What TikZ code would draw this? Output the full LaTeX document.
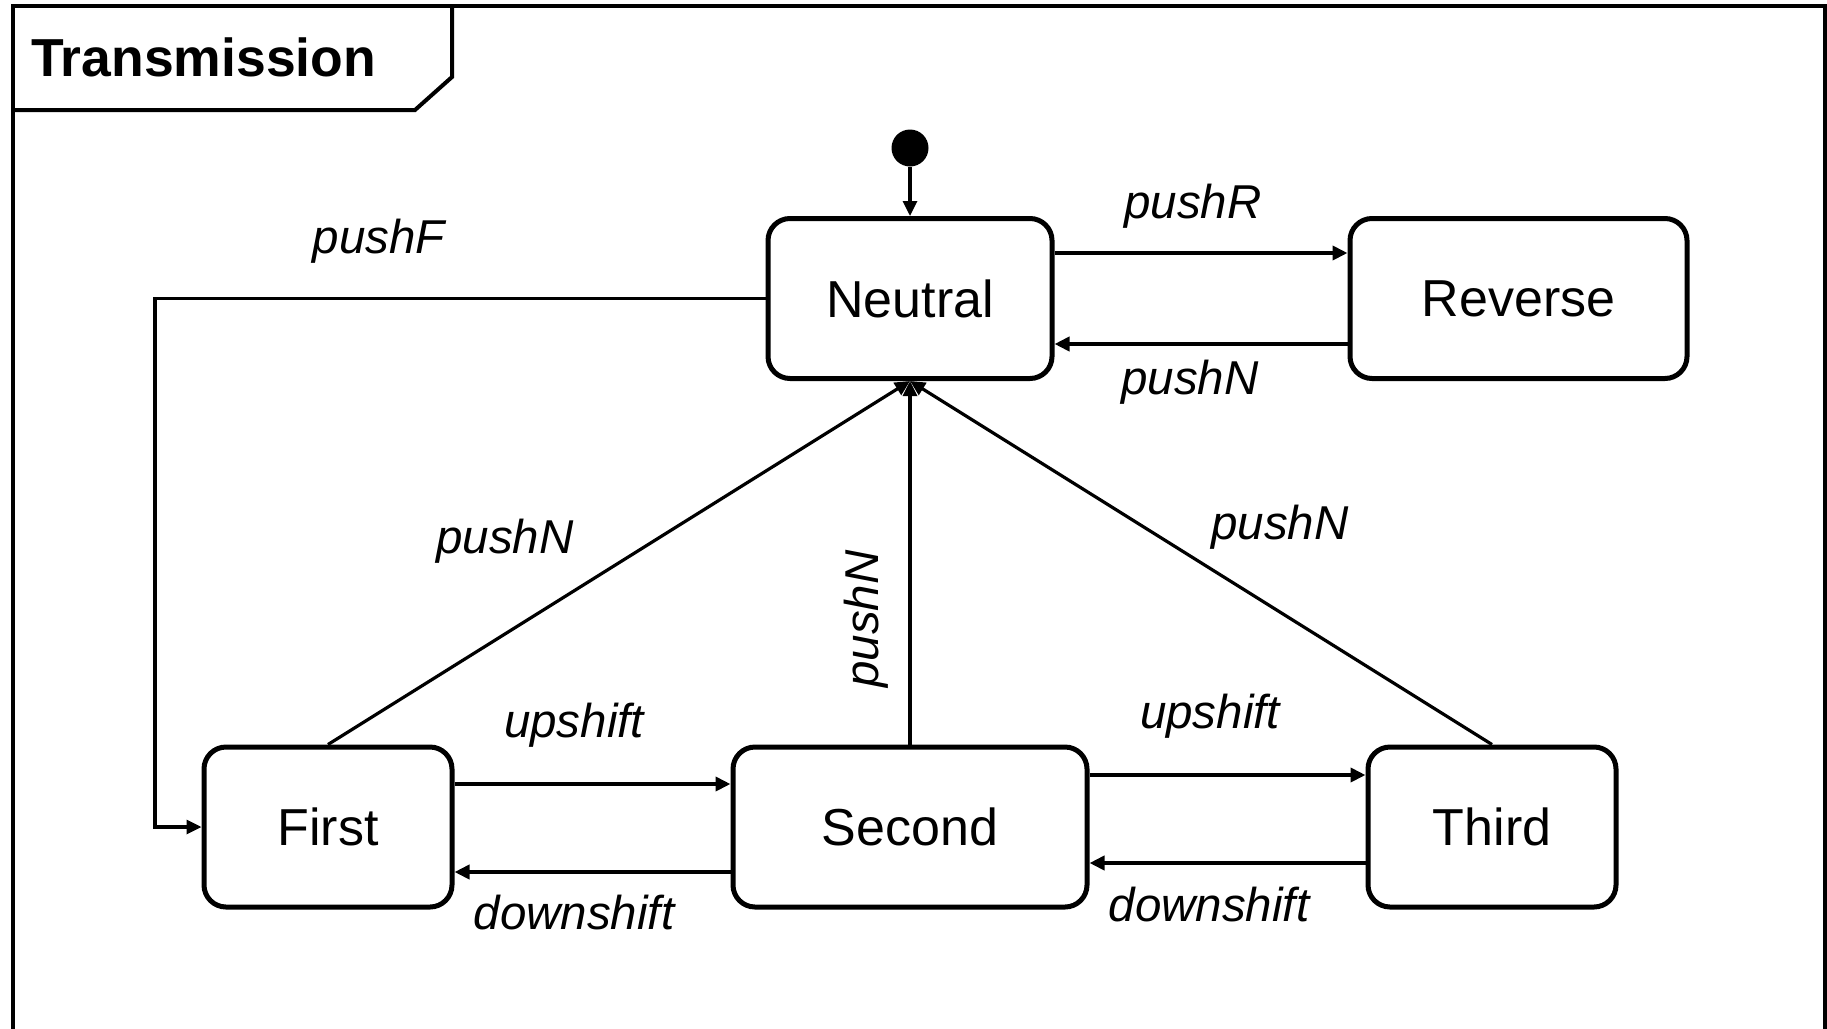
\documentclass[tikz,border=0pt]{standalone}
\usepackage{fontspec}
\setmainfont{Liberation Sans}
\usetikzlibrary{arrows.meta}

\tikzset{
  state/.style={draw, line width=5pt, rounded corners=22pt, inner sep=0pt,
    minimum height=160pt, font=\fontsize{52}{60}\selectfont},
  trig/.style={font=\fontsize{47.5}{54}\selectfont\itshape, inner sep=0pt},
  trans/.style={line width=4.4pt, -{Triangle[length=15pt,width=14pt]}},
  thin trans/.style={line width=3.2pt, -{Triangle[length=15pt,width=14pt]}},
  frameline/.style={line width=4.5pt},
}

\begin{document}
\begin{tikzpicture}[x=1pt, y=-1pt]
  \useasboundingbox (0,0) rectangle (1827,1028);

  % diagram frame and name tab
  \draw[frameline] (13,1040) -- (13,6) -- (1825,6) -- (1825,1040);
  \draw[line width=4pt] (13,110) -- (415,110) -- (452,77) -- (452,6);
  \node[anchor=base west, inner sep=0pt, font=\fontsize{53.5}{60}\selectfont\bfseries]
    (title) at (31,76) {Transmission};

  % states
  \node[state, minimum width=284pt] (neutral) at (910,298.5) {Neutral};
  \node[state, minimum width=337pt] (reverse) at (1518.5,298.5) {Reverse};
  \node[state, minimum width=248pt] (first)   at (328,827) {First};
  \node[state, minimum width=354pt] (second)  at (910,827) {Second};
  \node[state, minimum width=248pt] (third)   at (1492,827) {Third};

  % initial pseudo-state
  \node[circle, fill, inner sep=0pt, minimum size=37pt] (init) at (910,148) {};
  \draw[thin trans] (init) -- (neutral.north);

  % neutral <-> reverse
  \draw[trans] ([yshift=45.5pt]neutral.east) -- ([yshift=45.5pt]reverse.west);
  \draw[trans] ([yshift=-45.5pt]reverse.west) -- ([yshift=-45.5pt]neutral.east);
  \node[trig] (lpushR) at (1193,206) {pushR};
  \node[trig] (lpushNr) at (1190,382) {pushN};

  % neutral -> first
  \coordinate (fcorner) at (155,298.5);
  \draw[thin trans] (neutral.west) -- (fcorner) |- (first.west);
  \node[trig] (lpushF) at (379,241) {pushF};

  % gears back to neutral
  \draw[thin trans] (first.north) -- (neutral.south);
  \draw[thin trans] (second.north) -- (neutral.south);
  \draw[thin trans] (third.north) -- (neutral.south);
  \node[trig] (lpushN1) at (505,541) {pushN};
  \node[trig, rotate=90] (lpushN2) at (866,619) {pushN};
  \node[trig] (lpushN3) at (1280,527) {pushN};

  % shifting between gears
  \draw[trans] ([yshift=43pt]first.east) -- ([yshift=43pt]second.west);
  \draw[trans] ([yshift=-45pt]second.west) -- ([yshift=-45pt]first.east);
  \draw[trans] ([yshift=52pt]second.east) -- ([yshift=52pt]third.west);
  \draw[trans] ([yshift=-36pt]third.west) -- ([yshift=-36pt]second.east);
  \node[trig] (lup1) at (574,725) {upshift};
  \node[trig] (ldown1) at (574,913) {downshift};
  \node[trig] (lup2) at (1210,716) {upshift};
  \node[trig] (ldown2) at (1209,905) {downshift};
\end{tikzpicture}
\end{document}
